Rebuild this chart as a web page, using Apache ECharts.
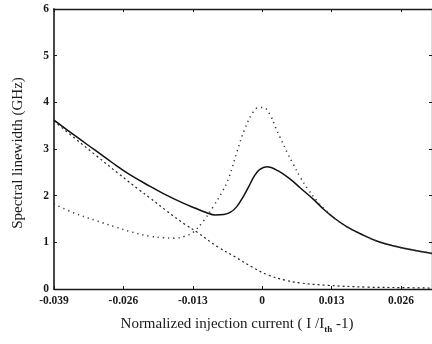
<!DOCTYPE html>
<html>
<head>
<meta charset="utf-8">
<script src="https://cdn.jsdelivr.net/npm/echarts@6/dist/echarts.min.js"></script>
<style>
  html, body { margin: 0; padding: 0; background: #fff; }
  #chart { width: 432px; height: 344px; }
</style>
</head>
<body>
<div id="chart"></div>
<script>
// Linewidth vs normalized injection current, three model curves
const solidX = [-0.039, -0.035, -0.0315, -0.028, -0.0248, -0.021, -0.0186, -0.0148, -0.0125, -0.0105, -0.0088, -0.0072, -0.006, -0.0048, -0.0036, -0.0025, -0.0015, -0.0005, 0.0009, 0.003, 0.0053, 0.0071, 0.0096, 0.0115, 0.0135, 0.0159, 0.019, 0.0221, 0.0255, 0.0285, 0.0318];
const solidY = [3.62, 3.28, 2.99, 2.70, 2.45, 2.20, 2.05, 1.84, 1.73, 1.64, 1.585, 1.595, 1.64, 1.76, 1.97, 2.20, 2.42, 2.56, 2.62, 2.53, 2.35, 2.17, 1.92, 1.71, 1.52, 1.33, 1.15, 1.00, 0.90, 0.83, 0.76];

const dottedX = [-0.039, -0.035, -0.031, -0.0275, -0.0244, -0.021, -0.0185, -0.0165, -0.0145, -0.0129, -0.011, -0.0092, -0.0075, -0.0062, -0.0047, -0.0032, -0.0017, -0.0006, 0.0004, 0.0015, 0.0025, 0.0033, 0.0047, 0.0058, 0.0071, 0.0085, 0.0103, 0.0115, 0.0135, 0.0159, 0.019, 0.0221, 0.0255, 0.0285, 0.0318];
const dottedY = [1.82, 1.62, 1.46, 1.33, 1.22, 1.13, 1.10, 1.09, 1.13, 1.22, 1.46, 1.76, 2.08, 2.40, 2.95, 3.45, 3.79, 3.89, 3.88, 3.73, 3.46, 3.26, 2.92, 2.68, 2.40, 2.15, 1.88, 1.73, 1.52, 1.33, 1.15, 1.00, 0.90, 0.83, 0.76];

const dashedX = [-0.039, -0.035, -0.031, -0.027, -0.023, -0.021, -0.018, -0.0144, -0.012, -0.0083, -0.0051, -0.0019, 0.0011, 0.0043, 0.0071, 0.012, 0.0197, 0.026, 0.0318];
const dashedY = [3.60, 3.22, 2.85, 2.48, 2.12, 1.95, 1.68, 1.38, 1.20, 0.90, 0.69, 0.47, 0.30, 0.19, 0.13, 0.08, 0.04, 0.03, 0.02];

const xMin = -0.039, xMax = 0.0318, xStep = 0.013;
const yMin = 0, yMax = 6, yStep = 1;

const pairs = (xs, ys) => xs.map((x, i) => [x, ys[i]]);
const FONT = '"Liberation Serif", "Times New Roman", serif';
const INK = '#1a1a1a';

const chart = echarts.init(document.getElementById('chart'), null, { renderer: 'canvas' });

const frameLine = { show: true, onZero: false, lineStyle: { color: INK, width: 1.3 } };
const inTick = { show: true, inside: true, length: 3, lineStyle: { color: INK, width: 1 } };
const fmtX = v => Math.abs(v) < 1e-9 ? '0' : v.toFixed(3);

chart.setOption({
  animation: false,
  backgroundColor: '#fff',
  grid: { left: 54, right: 0, top: 9, bottom: 55, containLabel: false },
  xAxis: [{
    type: 'value', position: 'bottom', min: xMin, max: xMax, interval: xStep,
    axisLine: frameLine, axisTick: inTick, splitLine: { show: false },
    axisLabel: { formatter: fmtX, showMaxLabel: false, margin: 6,
      fontFamily: FONT, fontSize: 11.5, fontWeight: 'bold', color: INK }
  }, {
    type: 'value', position: 'top', min: xMin, max: xMax, interval: xStep,
    axisLine: frameLine, axisTick: inTick, splitLine: { show: false },
    axisLabel: { show: false }
  }],
  yAxis: [{
    type: 'value', position: 'left', min: yMin, max: yMax, interval: yStep,
    axisLine: { show: true, onZero: false, lineStyle: { color: '#333', width: 1.8 } },
    axisTick: inTick, splitLine: { show: false },
    axisLabel: { margin: 5, fontFamily: FONT, fontSize: 11.5, fontWeight: 'bold', color: INK }
  }, {
    type: 'value', position: 'right', min: yMin, max: yMax, interval: yStep,
    axisLine: frameLine, axisTick: inTick, splitLine: { show: false },
    axisLabel: { show: false }
  }],
  series: [{
    type: 'line', name: 'solid', data: pairs(solidX, solidY), smooth: 0.4,
    showSymbol: false, clip: true,
    lineStyle: { color: '#111', width: 1.5, type: 'solid' }
  }, {
    type: 'line', name: 'dashed', data: pairs(dashedX, dashedY), smooth: 0.4,
    showSymbol: false, clip: true,
    lineStyle: { color: '#222', width: 1.2, type: [2, 3] }
  }, {
    type: 'line', name: 'dotted', data: pairs(dottedX, dottedY), smooth: 0.4,
    showSymbol: false, clip: true,
    lineStyle: { color: '#333', width: 1.5, type: [1.2, 4] }
  }],
  graphic: [{
    type: 'text', x: 18, y: 153, rotation: Math.PI / 2,
    style: { text: 'Spectral linewidth (GHz)', fontFamily: FONT, fontSize: 15,
      fill: INK, align: 'center', verticalAlign: 'middle' }
  }, {
    type: 'text', x: 237, y: 317,
    style: {
      text: '{n|Normalized injection current ( I /I}{s|th}{n| -1)}',
      align: 'center', verticalAlign: 'top', fill: INK,
      rich: {
        n: { fontFamily: FONT, fontSize: 15, lineHeight: 17, verticalAlign: 'top', fill: INK },
        s: { fontFamily: FONT, fontSize: 9, fontWeight: 'bold', lineHeight: 10,
             padding: [8, 0, 0, 0], verticalAlign: 'bottom', fill: INK }
      }
    }
  }]
});
</script>
</body>
</html>
